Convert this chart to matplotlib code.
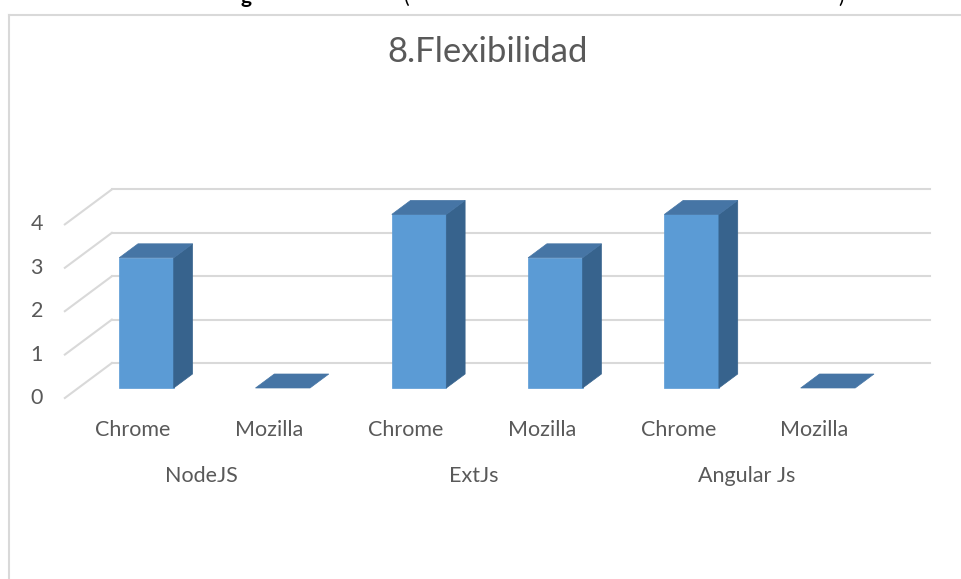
import matplotlib
matplotlib.use("Agg")
import matplotlib.pyplot as plt
from matplotlib.patches import Polygon
from matplotlib.lines import Line2D
import numpy as np

# chart data
title = "8.Flexibilidad"
groups = ["NodeJS", "ExtJs", "Angular Js"]
browsers = ["Chrome", "Mozilla"]
values = [3, 0, 4, 3, 4, 0]
yticks = [0, 1, 2, 3, 4]

# colours
front_col = "#5B9BD5"
top_col = "#4675A5"
side_col = "#37638D"
grid_col = "#D9D9D9"
text_col = "#595959"

# pseudo-3d projection (depth 0..1 -> offset in data units)
depth_dx = 0.345
depth_dy = 0.806
bar_d0 = 0.286   # bar front depth
bar_dd = 0.40    # bar depth
bar_w = 0.40

W, H = 961, 579
fig = plt.figure(figsize=(W / 100, H / 100), dpi=100)
ax = fig.add_axes([0, 0, 1, 1])
px_x, px_y = 136.3, 43.4       # pixels per unit
x0_px, y0_px = 133, 398        # pixel position of (0, 0)
ax.set_xlim(-x0_px / px_x, (W - x0_px) / px_x)
ax.set_ylim(-(H - y0_px) / px_y, y0_px / px_y)
ax.axis("off")

n = len(values)
xs = np.arange(n)
fs = 15.5

# floor / back wall gridlines
for v in yticks:
    ax.plot([-0.5, -0.5 + depth_dx], [v, v + depth_dy], color=grid_col, lw=1.5, zorder=1)
    ax.plot([-0.5 + depth_dx, n - 0.5 + depth_dx], [v + depth_dy, v + depth_dy],
            color=grid_col, lw=1.5, zorder=1)
    ax.text(-0.66, v, str(v), ha="right", va="center", fontsize=fs,
            color=text_col, family="Lato")

# bars
ox = bar_d0 * depth_dx
oy = bar_d0 * depth_dy
bx = bar_dd * depth_dx
by = bar_dd * depth_dy
for x, v in zip(xs, values):
    left = x + ox - bar_w / 2
    right = x + ox + bar_w / 2
    bot = oy
    top = oy + v
    if v > 0:
        ax.bar(x + ox, v, width=bar_w, bottom=bot, color=front_col, zorder=3,
               edgecolor=front_col, linewidth=0.5)
        ax.add_patch(Polygon([(right, bot), (right + bx, bot + by), (right + bx, top + by),
                              (right, top)], closed=True, facecolor=side_col,
                             edgecolor=side_col, lw=0.5, zorder=3))
    ax.add_patch(Polygon([(left, top), (right, top), (right + bx, top + by), (left + bx, top + by)],
                         closed=True, facecolor=top_col, edgecolor=top_col, lw=0.5, zorder=4))

# category labels
for x in xs:
    ax.text(x, -0.74, browsers[x % 2], ha="center", va="center", fontsize=fs,
            color=text_col, family="Lato")
for i, g in enumerate(groups):
    ax.text(2 * i + 0.5, -1.8, g, ha="center", va="center", fontsize=fs,
            color=text_col, family="Lato")

# title
fig.text(488 / W, 1 - 52 / H, title, ha="center", va="center", fontsize=25,
         color=text_col, family="Lato")

# chart border (top and left)
fig.add_artist(Line2D([8.5 / W, 8.5 / W], [0, 1 - 15 / H], color=grid_col, lw=1.5))
fig.add_artist(Line2D([8.5 / W, 1], [1 - 15 / H, 1 - 15 / H], color=grid_col, lw=1.5))

# cut-off line of document text above the chart
fig.text(246 / W, 1 - 3 / H, "g", ha="center", va="baseline", fontsize=15,
         fontweight="bold", color="black", family="Lato")
fig.text(407 / W, 1 - 3 / H, "(", ha="center", va="baseline", fontsize=15,
         color="black", family="Lato")
fig.text(841 / W, 1 - 3 / H, ")", ha="center", va="baseline", fontsize=15,
         color="black", family="Lato")

fig.savefig("out.png", dpi=100, facecolor="white")
